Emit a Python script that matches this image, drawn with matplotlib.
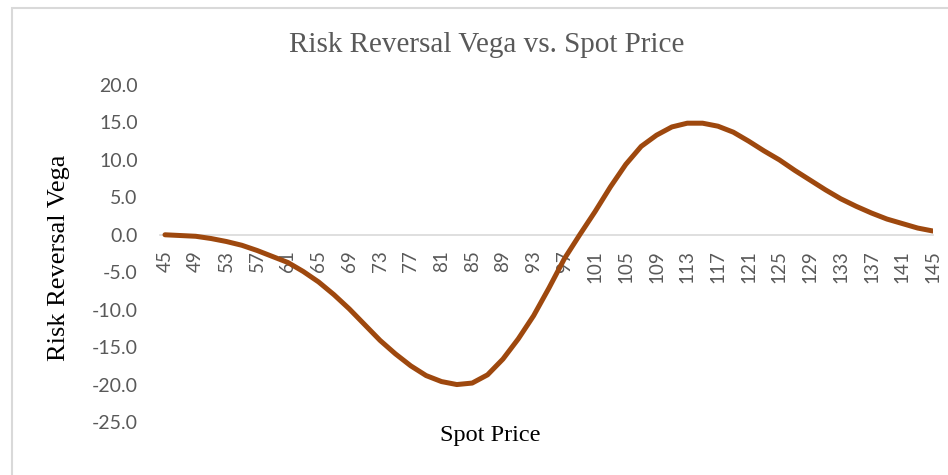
import matplotlib.pyplot as plt
from matplotlib.patches import Rectangle

# spot prices (step 2) and risk reversal vega
spot = list(range(45, 147, 2))
vega = [0.0, -0.1, -0.2, -0.5, -0.9, -1.4, -2.1, -2.9, -3.7, -4.9,
        -6.3, -8.0, -9.9, -12.0, -14.1, -15.9, -17.5, -18.8, -19.6, -20.0,
        -19.8, -18.7, -16.6, -13.9, -10.8, -7.1, -3.2, 0.0, 3.1, 6.4,
        9.4, 11.8, 13.3, 14.4, 14.9, 14.9, 14.5, 13.7, 12.5, 11.2,
        10.0, 8.6, 7.3, 6.0, 4.8, 3.8, 2.9, 2.1, 1.5, 0.9, 0.5]
x_labels = spot[::2]
y_ticks = [-25, -20, -15, -10, -5, 0, 5, 10, 15, 20]

W, H = 948, 475
fig = plt.figure(figsize=(W / 100, H / 100), dpi=100)

# chart area border (screenshot crop of an Excel chart)
fig.patches.append(Rectangle((12 / W, -0.05), 1.2, 1 - 8 / H + 0.05,
                             transform=fig.transFigure, fill=False,
                             edgecolor="#d9d9d9", linewidth=1.5))

ax = fig.add_axes([160 / W, 1 - 422 / H, (933 - 160) / W, (422 - 85) / H])
ax.plot(spot, vega, color="#9e480e", linewidth=3.6, solid_capstyle="round")

ax.set_xlim(44.35, 145.0)
ax.set_ylim(-25, 20)

for s in ["top", "right", "left"]:
    ax.spines[s].set_visible(False)
ax.spines["bottom"].set_position(("data", 0))
ax.spines["bottom"].set_color("#d9d9d9")
ax.spines["bottom"].set_linewidth(1.2)
ax.spines["bottom"].set_zorder(0)

ax.set_xticks(x_labels)
ax.set_xticklabels([str(v) for v in x_labels], rotation=90,
                   fontfamily="Lato", fontsize=13.5, color="#595959")
ax.set_yticks(y_ticks)
ax.set_yticklabels([f"{v:.1f}" for v in y_ticks],
                   fontfamily="Lato", fontsize=14, color="#595959")
ax.tick_params(axis="x", length=0, pad=11)
ax.tick_params(axis="y", length=0, pad=16)

fig.text(487 / W, 1 - 45 / H, "Risk Reversal Vega vs. Spot Price",
         ha="center", va="center", fontfamily="Liberation Serif",
         fontsize=21, color="#595959")
fig.text(59 / W, 1 - 258 / H, "Risk Reversal Vega", rotation=90,
         ha="center", va="center", fontfamily="Liberation Serif",
         fontsize=19, color="black")
fig.text(490 / W, 1 - 435 / H, "Spot Price",
         ha="center", va="center", fontfamily="Liberation Serif",
         fontsize=17.5, color="black")

fig.savefig("out.png", dpi=100)
